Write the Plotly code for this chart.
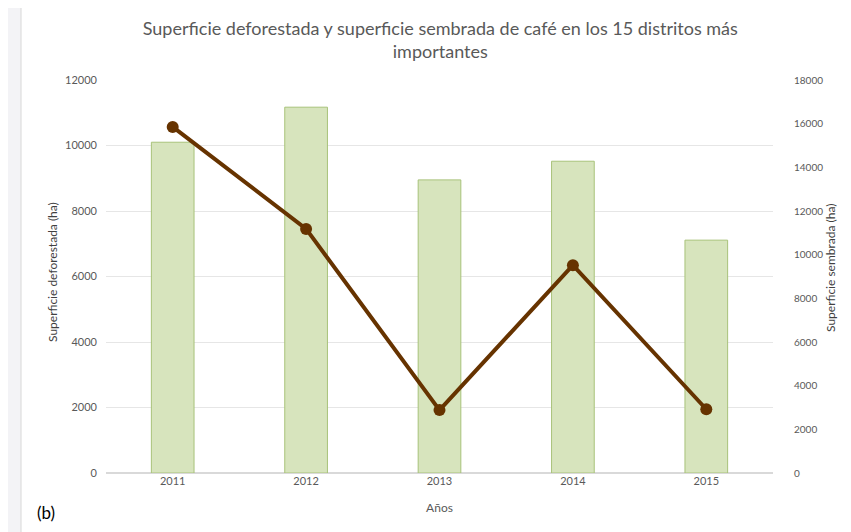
import plotly.graph_objects as go

years = ["2011", "2012", "2013", "2014", "2015"]
deforestada = [10100, 11170, 8950, 9520, 7110]
sembrada = [15850, 11180, 2880, 9520, 2920]

title_text = "Superficie deforestada y superficie sembrada de café en los 15 distritos más<br>importantes"

fig = go.Figure()
fig.add_trace(go.Bar(
    x=years, y=deforestada, yaxis="y",
    marker=dict(color="#d7e4bd", line=dict(color="#a8c27a", width=1)),
    name="Superficie deforestada", showlegend=False,
))
fig.add_trace(go.Scatter(
    x=years, y=sembrada, yaxis="y2", mode="lines+markers",
    line=dict(color="#663300", width=4),
    marker=dict(color="#663300", size=12),
    name="Superficie sembrada", showlegend=False,
))

font_fam = "Lato, 'Open Sans', sans-serif"
tick_font = dict(family=font_fam, size=11, color="#595959")
tick_font_r = dict(family=font_fam, size=10, color="#595959")
axt_font = dict(family=font_fam, size=12, color="#404040")

W, H = 851, 532
L, T = 98, 72
PW, PH = 667, 393
R, B = W - L - PW, H - T - PH


def px_x(x):
    return (x - L) / PW


def px_y(y):
    return (T + PH - y) / PH


fig.update_layout(
    width=W, height=H,
    margin=dict(l=L, r=R, t=T, b=B, autoexpand=False),
    paper_bgcolor="#f3f3f6",
    plot_bgcolor="white",
    bargap=0.68,
    title=dict(text=title_text, x=0.508, xanchor="center", y=0.95, yanchor="top",
               font=dict(family=font_fam, size=18, color="#595959")),
    xaxis=dict(type="category", tickfont=tick_font, showgrid=False, automargin=False,
               showline=False, ticks="", ticklen=0,
               title=dict(text="Años", font=dict(family=font_fam, size=12, color="#595959"), standoff=17)),
    yaxis=dict(range=[0, 12000], tickvals=[0, 2000, 4000, 6000, 8000, 10000, 12000],
               tickformat="d", automargin=False,
               tickfont=tick_font, gridcolor="#e6e6e6", gridwidth=1, zeroline=True,
               zerolinecolor="#d9d9d9", showline=False, ticklabelstandoff=8),
    yaxis2=dict(range=[0, 18000], tickvals=list(range(0, 18001, 2000)), overlaying="y",
                tickformat="d", automargin=False,
                side="right", showgrid=False, zeroline=False, tickfont=tick_font_r,
                ticklabelstandoff=20),
    shapes=[dict(type="rect", xref="paper", yref="paper",
                 x0=px_x(13), x1=px_x(860),
                 y0=px_y(540), y1=px_y(-2),
                 fillcolor="white", line=dict(color="#d8d8d8", width=1), layer="below")],
    annotations=[
        dict(text="(b)", xref="paper", yref="paper", x=px_x(27), y=px_y(504),
             xanchor="left", yanchor="middle", showarrow=False,
             font=dict(family=font_fam, size=17, color="#000000")),
        dict(text="Superficie deforestada (ha)", xref="paper", yref="paper",
             x=px_x(44), y=px_y(264), textangle=-90, xanchor="center", yanchor="middle",
             showarrow=False, font=axt_font),
        dict(text="Superficie sembrada (ha)", xref="paper", yref="paper",
             x=px_x(822), y=px_y(260), textangle=-90, xanchor="center", yanchor="middle",
             showarrow=False, font=axt_font),
    ],
)

fig.write_html("out.html")
